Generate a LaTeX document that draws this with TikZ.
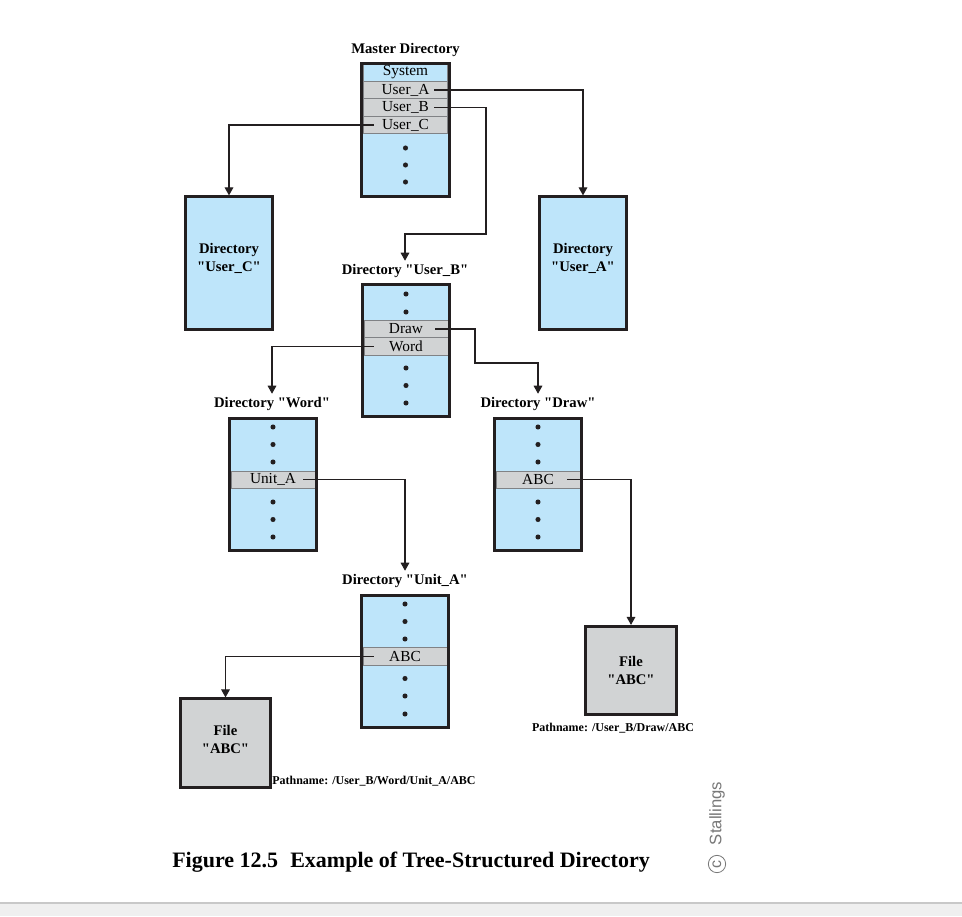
\documentclass[tikz,border=0pt]{standalone}
\usepackage{fontspec}
\setmainfont{Liberation Serif}
\newfontfamily\helv{Liberation Sans}
\usetikzlibrary{arrows.meta,calc}
\newcommand\qq{\textquotedbl}
\definecolor{dirblue}{RGB}{190,229,250}
\definecolor{rowgray}{RGB}{209,211,212}
\definecolor{rowedge}{RGB}{128,130,133}
\definecolor{ink}{RGB}{35,31,32}
\definecolor{stal}{RGB}{120,120,120}
\definecolor{bandfill}{RGB}{239,239,239}
\definecolor{bandline}{RGB}{200,200,200}
\begin{document}
\begin{tikzpicture}[x=0.75pt,y=-0.75pt,
  dirbox/.style={fill=dirblue, minimum width=65.25pt, minimum height=99pt, inner sep=0pt},
  filebox/.style={dirbox, fill=rowgray, minimum width=67.5pt, minimum height=66pt},
  boxtext/.style={align=center, inner sep=0pt, font=\bfseries\fontsize{11}{13.5}\selectfont},
  frame/.style={draw=ink, line width=2.25pt},
  rowbox/.style={fill=rowgray, draw=rowedge, line width=0.6pt, minimum width=63pt, minimum height=13pt, inner sep=0pt, font=\fontsize{11.5}{12}\selectfont},
  lbl/.style={font=\bfseries\fontsize{11}{13}\selectfont, inner sep=1.5pt},
  conn/.style={draw=ink, line width=0.8pt, -{Triangle[width=6.5pt,length=6pt]}, shorten >=1pt},
  pathlbl/.style={font=\bfseries\fontsize{9}{10}\selectfont, inner sep=0pt},
  dotc/.style={fill=ink}
]
\useasboundingbox (0,0) rectangle (962,916);
\fill[white] (0,0) rectangle (962,916);
% bottom band
\fill[bandfill] (0,903) rectangle (962,916);
\draw[bandline, line width=1.5pt] (0,903) -- (962,903);

% ---------- Master directory
\node[lbl] (lblmaster) at (405.5,49.5) {Master Directory};
\node[dirbox] (master) at (405.5,130) {};
\node[rowbox, fill=dirblue] (sys) at (405.5,72.5) {System};
\node[rowbox] (ua) at (405.5,90) {User\_A};
\node[rowbox] (ub) at (405.5,107.5) {User\_B};
\node[rowbox] (uc) at (405.5,125) {User\_C};
\foreach \yy in {148,165,182} \fill[dotc] (405.5,\yy) circle (1.9pt);
\draw[frame] (master.south west) rectangle (master.north east);

% ---------- User_C and User_A directories
\node[dirbox] (dirc) at (229,263) {};
\node[boxtext] (dirctext) at (229,258) {Directory\\\qq User\_C\qq};
\draw[frame] (dirc.south west) rectangle (dirc.north east);
\node[dirbox] (dira) at (583,263) {};
\node[boxtext] (diratext) at (583,258) {Directory\\\qq User\_A\qq};
\draw[frame] (dira.south west) rectangle (dira.north east);

% ---------- User_B directory
\node[lbl] (lblub) at (405,271) {Directory \qq User\_B\qq};
\node[dirbox] (dirb) at (406,350.5) {};
\node[rowbox] (dr) at (406,329) {Draw};
\node[rowbox] (wd) at (406,346.5) {Word};
\foreach \yy in {294,312,368,385.5,403} \fill[dotc] (406,\yy) circle (1.9pt);
\draw[frame] (dirb.south west) rectangle (dirb.north east);

% ---------- Word directory
\node[lbl] (lblword) at (272,404) {Directory \qq Word\qq};
\node[dirbox] (dirw) at (273,484.5) {};
\node[rowbox] (unita) at (273,479.7) {Unit\_A};
\foreach \yy in {427,444.5,462,502,519.5,537} \fill[dotc] (273,\yy) circle (1.9pt);
\draw[frame] (dirw.south west) rectangle (dirw.north east);

% ---------- Draw directory
\node[lbl] (lbldraw) at (538,404) {Directory \qq Draw\qq};
\node[dirbox] (dird) at (538,484.5) {};
\node[rowbox] (abcd) at (538,479.7) {ABC};
\foreach \yy in {427,444.5,462,502,519.5,537} \fill[dotc] (538,\yy) circle (1.9pt);
\draw[frame] (dird.south west) rectangle (dird.north east);

% ---------- Unit_A directory
\node[lbl] (lblunit) at (405,581) {Directory \qq Unit\_A\qq};
\node[dirbox] (diru) at (405,661.5) {};
\node[rowbox] (abcu) at (405,656.5) {ABC};
\foreach \yy in {604,621.5,639,678.5,696,714} \fill[dotc] (405,\yy) circle (1.9pt);
\draw[frame] (diru.south west) rectangle (diru.north east);

% ---------- Files
\node[filebox] (filer) at (631,670.5) {};
\node[boxtext] (filertext) at (631,670) {File\\\qq ABC\qq};
\draw[frame] (filer.south west) rectangle (filer.north east);
\node[pathlbl] (pathr) at (613,728.5) {Pathname: /User\_B/Draw/ABC};

\node[filebox] (filel) at (225.5,743) {};
\node[boxtext] (fileltext) at (225.5,739) {File\\\qq ABC\qq};
\draw[frame] (filel.south west) rectangle (filel.north east);
\node[pathlbl, anchor=west] (pathl) at (272,781) {Pathname: /User\_B/Word/Unit\_A/ABC};

% ---------- Connectors
\coordinate (b1) at (486,234);
\coordinate (d1) at (475,363);
\draw[conn] ([xshift=-10.1pt]ua.east) -| (dira.north);
\draw[conn] ([xshift=-10.1pt]ub.east) -| (b1) -| (lblub.north);
\draw[conn] ([xshift=8pt]uc.west) -| (dirc.north);
\draw[conn] ([xshift=-9.75pt]dr.east) -| (d1) -| (lbldraw.north);
\draw[conn] ([xshift=7.5pt]wd.west) -| (lblword.north);
\draw[conn] ([xshift=-9pt]unita.east) -| (lblunit.north);
\draw[conn] ([xshift=-9.75pt]abcd.east) -| (filer.north);
\draw[conn] ([xshift=8.25pt]abcu.west) -| (filel.north);

% ---------- Caption and credit
\node[anchor=base west, font=\bfseries\fontsize{16.5}{18}\selectfont, inner sep=0pt] (cap) at (172,867) {Figure 12.5\hspace{0.55em}Example of Tree-Structured Directory};
\node[rotate=90, font=\helv\fontsize{12.5}{14}\selectfont, text=stal, inner sep=0pt] (stallings) at (717,813.5) {Stallings};
\node[circle, draw=stal, line width=0.6pt, minimum size=13pt, inner sep=0pt, rotate=90, font=\helv\fontsize{12}{12}\selectfont, text=stal] (copyr) at (717,864) {c};
\end{tikzpicture}
\end{document}
